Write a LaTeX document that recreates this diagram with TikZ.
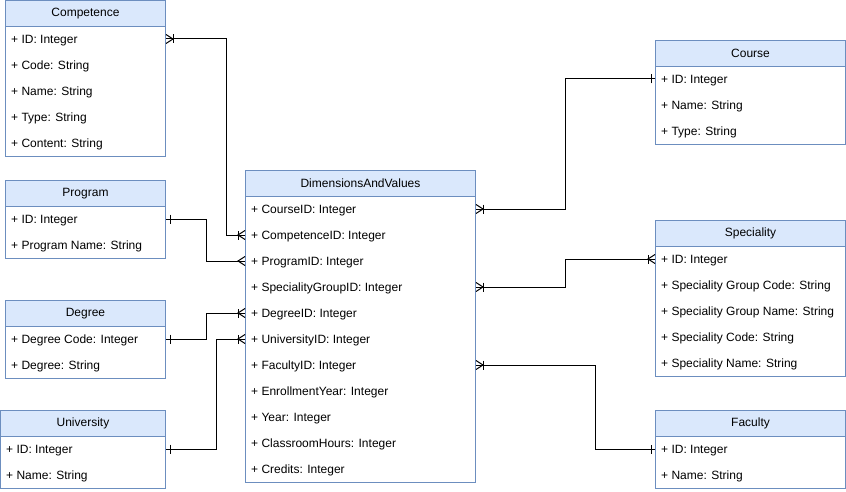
\documentclass[tikz,border=0pt]{standalone}
\usepackage{fontspec}
\setmainfont{Liberation Sans}
\definecolor{erborder}{HTML}{6C8EBF}
\definecolor{erfill}{HTML}{DAE8FC}
% an entity table: name, x, y, width, number of rows, title, rows
\newcommand\ertable[7]{%
  \node[erhead, minimum width=#4pt, anchor=north west] (#1-h) at ({#2},{#3}) {#6};
  \node[erbody, minimum width=#4pt, minimum height=#5*26pt, anchor=north west] (#1) at ({#2},{#3+26}) {};
  \foreach \rowtext [count=\k] in {#7} {\node[errow] (#1-\k) at ({#2+6},{#3+13+26*\k}) {\rowtext};}
}
\begin{document}
\begin{tikzpicture}[x=1pt,y=-1pt,
  erfont/.style={font=\fontsize{12}{14}\selectfont},
  erhead/.style={draw=erborder, fill=erfill, line width=1pt, minimum height=26pt, inner sep=0pt, erfont},
  erbody/.style={draw=erborder, fill=white, line width=1pt, inner sep=0pt},
  errow/.style={anchor=west, inner sep=0pt, text height=9pt, text depth=0pt, erfont},
  conn/.style={draw=black, line width=1pt},
  mandone/.pic={\draw[conn] (4,-4.5) -- (4,4.5);},
  many/.pic={\draw[conn] (0,-4.5) -- (7,0) -- (0,4.5);},
  onemany/.pic={\draw[conn] (0,-4.5) -- (7,0) -- (0,4.5); \draw[conn] (7,-4.5) -- (7,4.5);},
]
\useasboundingbox (0,0) rectangle (846,492);

\ertable{comp}{5}{0}{160}{5}{Competence}{+ ID: Integer,+ Code: String,+ Name: String,+ Type: String,+ Content: String}
\ertable{prog}{5}{180}{160}{2}{Program}{+ ID: Integer,+ Program Name: String}
\ertable{deg}{5}{300}{160}{2}{Degree}{+ Degree Code: Integer,+ Degree: String}
\ertable{univ}{0}{410}{165}{2}{University}{+ ID: Integer,+ Name: String}
\ertable{dv}{245}{170}{230}{11}{DimensionsAndValues}{+ CourseID: Integer,+ CompetenceID: Integer,+ ProgramID: Integer,+ SpecialityGroupID: Integer,+ DegreeID: Integer,+ UniversityID: Integer,+ FacultyID: Integer,+ EnrollmentYear: Integer,+ Year: Integer,+ ClassroomHours: Integer,+ Credits: Integer}
\ertable{course}{655}{40}{190}{3}{Course}{+ ID: Integer,+ Name: String,+ Type: String}
\ertable{spec}{655}{220}{190}{5}{Speciality}{+ ID: Integer,+ Speciality Group Code: String,+ Speciality Group Name: String,+ Speciality Code: String,+ Speciality Name: String}
\ertable{fac}{655}{410}{190}{2}{Faculty}{+ ID: Integer,+ Name: String}

% relationships
\draw[conn] (comp.east |- comp-1) -- ++(60,0) |- (dv.west |- dv-2);
\draw[conn] (prog.east |- prog-1) -- ++(40,0) |- (dv.west |- dv-3);
\draw[conn] (deg.east |- deg-1) -- ++(40,0) |- (dv.west |- dv-5);
\draw[conn] (univ.east |- univ-1) -- ++(50,0) |- (dv.west |- dv-6);
\draw[conn] (course.west |- course-1) -- ++(-90,0) |- (dv.east |- dv-1);
\draw[conn] (spec.west |- spec-1) -- ++(-90,0) |- (dv.east |- dv-4);
\draw[conn] (fac.west |- fac-1) -- ++(-60,0) |- (dv.east |- dv-7);

% cardinality marks
\pic at (comp.east |- comp-1) {onemany};
\pic[rotate=180] at (dv.west |- dv-2) {onemany};
\pic at (prog.east |- prog-1) {mandone};
\pic[rotate=180] at (dv.west |- dv-3) {many};
\pic at (deg.east |- deg-1) {mandone};
\pic[rotate=180] at (dv.west |- dv-5) {onemany};
\pic at (univ.east |- univ-1) {mandone};
\pic[rotate=180] at (dv.west |- dv-6) {onemany};
\pic[rotate=180] at (course.west |- course-1) {mandone};
\pic at (dv.east |- dv-1) {onemany};
\pic[rotate=180] at (spec.west |- spec-1) {onemany};
\pic at (dv.east |- dv-4) {onemany};
\pic[rotate=180] at (fac.west |- fac-1) {mandone};
\pic at (dv.east |- dv-7) {onemany};
\end{tikzpicture}
\end{document}
